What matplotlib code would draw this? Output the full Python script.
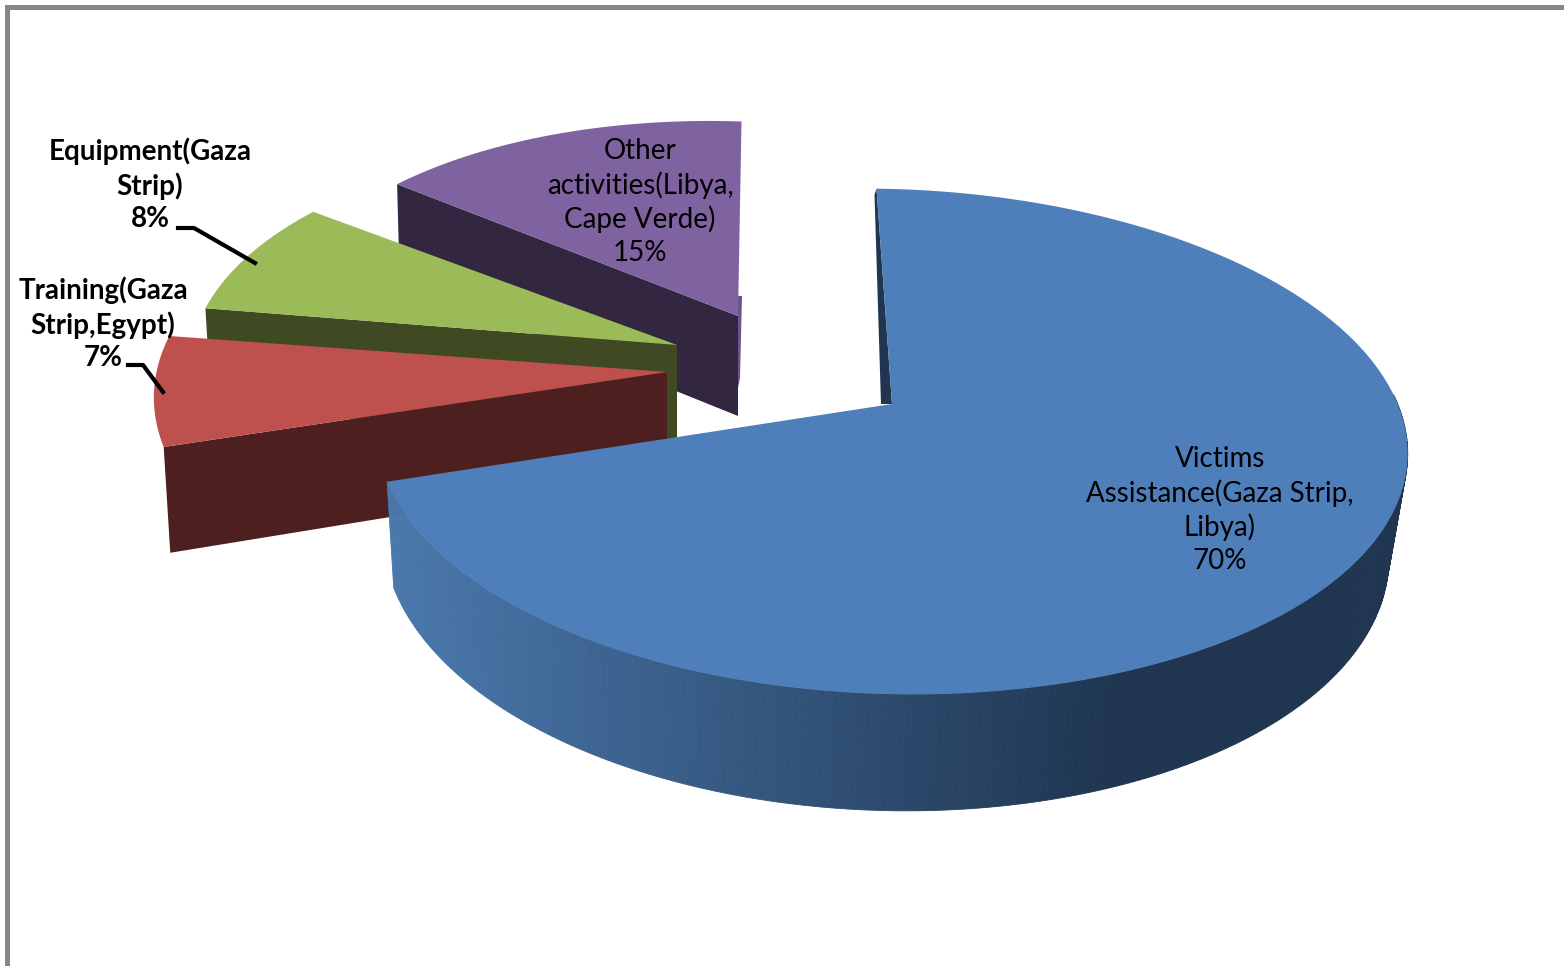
import numpy as np
import matplotlib
matplotlib.use('Agg')
import matplotlib.pyplot as plt
from matplotlib.colors import to_rgb

# slice values, clockwise from 12 o'clock
categories = ['Victims\nAssistance(Gaza Strip,\nLibya)',
              'Training(Gaza\nStrip,Egypt)',
              'Equipment(Gaza\nStrip)',
              'Other\nactivities(Libya,\nCape Verde)']
values = [70, 7, 8, 15]

top_colors = ['#4f7fba', '#be504d', '#9bbb59', '#7f63a0']
face_colors = ['#1f3550', '#4d1f1f', '#3f4a23', '#322640']

# where each slice's tip lands after being pulled out of the pie
tips = [(892, 404), (667, 372), (677, 345), (738, 316)]
# pulled out slices sit further from the camera, so they come out smaller
slice_scale = [1.0, 0.995, 0.945, 0.905]
slice_turn = [0, 0.5, 1, 2.5]
label_pos = [(1220, 510), (103, 324), (150, 185), (640, 202)]
label_weight = ['normal', 'bold', 'bold', 'normal']

# projection of the tilted disc, in pixels
RX = 510
RY = 247
PERSPECTIVE = 0.1486
SHEAR = 12
DEPTH = 100
START = -2


def rim(theta, tip, scale=1.0, bottom=False):
    t = np.radians(theta)
    u, v = np.sin(t), np.cos(t)
    s = scale / (1 + PERSPECTIVE * v)
    dx = RX * u * s
    dy = -RY * v * s + SHEAR * u
    if bottom:
        return tip[0] + 0.975 * dx - 6, tip[1] + DEPTH + 1.05 * dy + 2
    return tip[0] + dx, tip[1] + dy


fig = plt.figure(figsize=(15.64, 9.66), dpi=100)
ax = fig.add_axes([0, 0, 1, 1])
ax.set_xlim(0, 1564)
ax.set_ylim(966, 0)
ax.axis('off')
plt.rcParams['font.family'] = 'Lato'

# chart border, only top and left show
ax.plot([6.5, 6.5, 1564], [966, 6.5, 6.5], color='#878787', lw=3.6, solid_joinstyle='miter')

edges = START + np.cumsum([0] + values) * 3.6

# back to front: purple, green, red, blue
for i in [3, 2, 1, 0]:
    theta = np.linspace(edges[i], edges[i + 1], 120) + slice_turn[i]
    tip = tips[i]
    sc = slice_scale[i]
    xt, yt = rim(theta, tip, sc)
    if i != 0:
        # cut face on the start side, the one turned to the viewer
        x0, y0 = rim(theta[0], tip, sc)
        x1, y1 = rim(theta[0], tip, sc, bottom=True)
        ax.fill([x0, tip[0], tip[0], x1], [y0, tip[1], tip[1] + DEPTH, y1],
                color=face_colors[i], lw=0)
    if i == 3:
        # thin lit edge on the right of the purple slice
        ax.fill([tip[0], tip[0] + 4, tip[0] + 2, tip[0]],
                [tip[1] - 20, tip[1] - 20, tip[1] + 62, tip[1] + 72],
                color='#6d5389', lw=0)
    if i == 0:
        # blue outer wall, shaded from left to right
        theta_wall = np.linspace(85, edges[1], 260)
        left = np.array(to_rgb('#4a78ac'))
        right = np.array(to_rgb(face_colors[0]))
        for a, b in zip(theta_wall[:-1], theta_wall[1:]):
            xa, ya = rim(a, tip)
            xb, yb = rim(b, tip)
            xc, yc = rim(b, tip, bottom=True)
            xd, yd = rim(a, tip, bottom=True)
            f = np.clip((1120 - (xa + xb) / 2) / 730, 0, 1)
            col = right + (left - right) * f
            ax.fill([xa, xb, xc, xd], [ya, yb, yc, yd], color=col, ec=col, lw=0.6)
        # sliver of the start face, seen next to the notch
        x0, y0 = rim(theta[0], tip)
        ax.fill([x0, tip[0], tip[0] - 11, x0 - 2], [y0, tip[1], tip[1], y0 + 6],
                color=face_colors[0], lw=0)
    ax.fill(np.r_[tip[0], xt], np.r_[tip[1], yt], color=top_colors[i], lw=0)

# leader lines
ax.plot([178, 194, 255], [228, 228, 263], color='black', lw=3)
ax.plot([128, 143, 163], [365, 365, 392], color='black', lw=3)

for name, val, pos, weight in zip(categories, values, label_pos, label_weight):
    ax.text(pos[0], pos[1], f'{name}\n{val}%', ha='center', va='center',
            fontsize=20, linespacing=1.3, color='black', fontweight=weight)

fig.savefig('out.png', dpi=100)
